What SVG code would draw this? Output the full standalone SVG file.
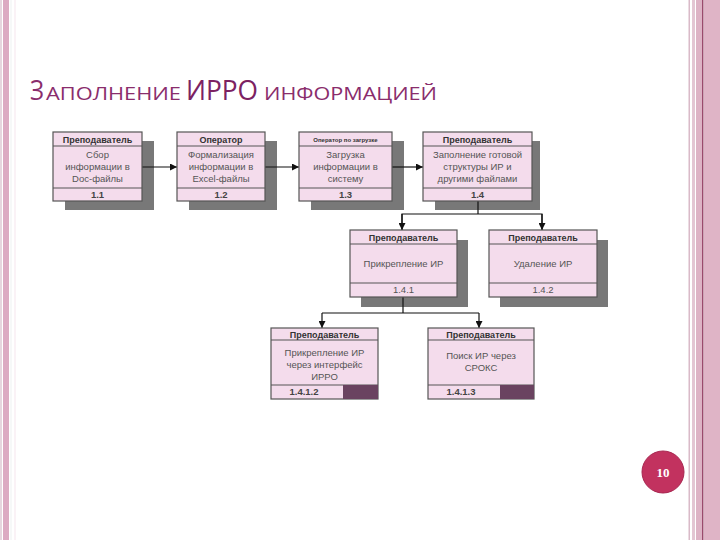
<svg xmlns="http://www.w3.org/2000/svg" width="720" height="540" viewBox="0 0 720 540">
<defs>
<style>
.box{fill:#f4dcec;stroke:#555;stroke-width:1.2}
.shd{fill:#787878}
.sep{stroke:#555;stroke-width:1}
.hd{font-family:"Liberation Sans",Arial,sans-serif;font-size:9px;font-weight:bold;fill:#333;text-anchor:middle}
.hds{font-family:"Liberation Sans",Arial,sans-serif;font-size:6px;font-weight:bold;fill:#333;text-anchor:middle}
.bd{font-family:"Liberation Sans",Arial,sans-serif;font-size:9.5px;fill:#555;text-anchor:middle}
.ft{font-family:"Liberation Sans",Arial,sans-serif;font-size:9.5px;font-weight:bold;fill:#444;text-anchor:middle}
.ftl{font-family:"Liberation Sans",Arial,sans-serif;font-size:9.5px;fill:#555;text-anchor:middle}
.dk{fill:#6a4360}
.cn{stroke:#111;stroke-width:1.2;fill:none}
.tsm{font-size:19px}
.tbg{font-size:27px}
</style>
<marker id="ah" viewBox="0 0 10 10" refX="10" refY="5" markerWidth="7" markerHeight="7" markerUnits="userSpaceOnUse" orient="auto">
<path d="M0,0 L10,5 L0,10 z" fill="#111"/>
</marker>
</defs>
<rect width="720" height="540" fill="#fff"/>
<g id="frame">
<rect x="0" y="0" width="2" height="540" fill="#e6d6de"/>
<rect x="3" y="0" width="6" height="540" fill="#dcaac2"/>
<rect x="10.5" y="0" width="1" height="540" fill="#eef2f2"/>
<rect x="14.5" y="0" width="1" height="540" fill="#f6e6ee"/>
<rect x="688.5" y="0" width="1.5" height="540" fill="#d9bac8"/>
<rect x="692" y="0" width="3" height="540" fill="#e3c6d3"/>
<rect x="696" y="0" width="6" height="540" fill="#ddb3c5"/>
<rect x="702" y="0" width="1.5" height="540" fill="#9a4a6c"/>
<rect x="704" y="0" width="16" height="540" fill="#dfb4c6"/>
</g>
<g id="title" font-family="'Open Sans','Liberation Sans',sans-serif" fill="#8a2d6c">
<text y="100"><tspan x="30" class="tbg" textLength="14" lengthAdjust="spacingAndGlyphs">З</tspan><tspan x="46" class="tsm" textLength="135" lengthAdjust="spacingAndGlyphs">АПОЛНЕНИЕ</tspan><tspan x="186" class="tbg" textLength="72" lengthAdjust="spacingAndGlyphs" fill="#7c2262">ИРРО</tspan><tspan x="264" class="tsm" textLength="173" lengthAdjust="spacingAndGlyphs">ИНФОРМАЦИЕЙ</tspan></text>
</g>
<g id="shadows">
<rect class="shd" x="65" y="141" width="89" height="69"/>
<rect class="shd" x="189" y="141" width="88" height="69"/>
<rect class="shd" x="311" y="141" width="93" height="69"/>
<rect class="shd" x="435" y="141" width="105" height="69"/>
<rect class="shd" x="361" y="240" width="107" height="67"/>
<rect class="shd" x="500" y="240" width="108" height="67"/>
</g>
<g id="connectors">
<line class="cn" x1="142" y1="167" x2="177" y2="167" marker-end="url(#ah)"/>
<line class="cn" x1="265" y1="167" x2="299" y2="167" marker-end="url(#ah)"/>
<line class="cn" x1="392" y1="167" x2="423" y2="167" marker-end="url(#ah)"/>
<polyline class="cn" points="478,201 478,214"/>
<polyline class="cn" points="402,230 402,214 542,214 542,230"/>
<line class="cn" x1="402" y1="214" x2="402" y2="230" marker-end="url(#ah)"/>
<line class="cn" x1="542" y1="214" x2="542" y2="230" marker-end="url(#ah)"/>
<polyline class="cn" points="403,297 403,313"/>
<polyline class="cn" points="322,313 479,313"/>
<line class="cn" x1="322" y1="313" x2="322" y2="328" marker-end="url(#ah)"/>
<line class="cn" x1="479" y1="313" x2="479" y2="328" marker-end="url(#ah)"/>
</g>
<g id="n1_1">
<rect class="box" x="53" y="132" width="89" height="69"/>
<line class="sep" x1="53" y1="146" x2="142" y2="146"/>
<line class="sep" x1="53" y1="188" x2="142" y2="188"/>
<text class="hd" x="97.5" y="142.5">Преподаватель</text>
<text class="bd" x="97.5" y="157.5">Сбор</text>
<text class="bd" x="97.5" y="169.5">информации в</text>
<text class="bd" x="97.5" y="181.5">Doc-файлы</text>
<text class="ft" x="97.5" y="197.5">1.1</text>
</g>
<g id="n1_2">
<rect class="box" x="177" y="132" width="88" height="69"/>
<line class="sep" x1="177" y1="146" x2="265" y2="146"/>
<line class="sep" x1="177" y1="188" x2="265" y2="188"/>
<text class="hd" x="221" y="142.5">Оператор</text>
<text class="bd" x="221" y="157.5">Формализация</text>
<text class="bd" x="221" y="169.5">информации в</text>
<text class="bd" x="221" y="181.5">Excel-файлы</text>
<text class="ft" x="221" y="197.5">1.2</text>
</g>
<g id="n1_3">
<rect class="box" x="299" y="132" width="93" height="69"/>
<line class="sep" x1="299" y1="146" x2="392" y2="146"/>
<line class="sep" x1="299" y1="188" x2="392" y2="188"/>
<text class="hds" x="345.5" y="141.5">Оператор по загрузке</text>
<text class="bd" x="345.5" y="157.5">Загрузка</text>
<text class="bd" x="345.5" y="169.5">информации в</text>
<text class="bd" x="345.5" y="181.5">систему</text>
<text class="ft" x="345.5" y="197.5">1.3</text>
</g>
<g id="n1_4">
<rect class="box" x="423" y="132" width="109" height="69"/>
<line class="sep" x1="423" y1="146" x2="532" y2="146"/>
<line class="sep" x1="423" y1="188" x2="532" y2="188"/>
<text class="hd" x="477.5" y="142.5">Преподаватель</text>
<text class="bd" x="477.5" y="157.5">Заполнение готовой</text>
<text class="bd" x="477.5" y="169.5">структуры ИР и</text>
<text class="bd" x="477.5" y="181.5">другими файлами</text>
<text class="ft" x="477.5" y="197.5">1.4</text>
</g>
<g id="n1_4_1">
<rect class="box" x="350" y="230" width="107" height="67"/>
<line class="sep" x1="350" y1="244" x2="457" y2="244"/>
<line class="sep" x1="350" y1="283" x2="457" y2="283"/>
<text class="hd" x="403.5" y="240.5">Преподаватель</text>
<text class="bd" x="403.5" y="266.5">Прикрепление ИР</text>
<text class="ftl" x="403.5" y="293">1.4.1</text>
</g>
<g id="n1_4_2">
<rect class="box" x="489" y="230" width="108" height="67"/>
<line class="sep" x1="489" y1="244" x2="597" y2="244"/>
<line class="sep" x1="489" y1="283" x2="597" y2="283"/>
<text class="hd" x="543" y="240.5">Преподаватель</text>
<text class="bd" x="543" y="266.5">Удаление ИР</text>
<text class="ftl" x="543" y="293">1.4.2</text>
</g>
<g id="n1_4_1_2">
<rect class="box" x="271" y="328" width="107" height="71"/>
<line class="sep" x1="271" y1="340" x2="378" y2="340"/>
<line class="sep" x1="271" y1="385" x2="378" y2="385"/>
<rect class="dk" x="343" y="385" width="35" height="14"/>
<text class="hd" x="324.5" y="337.5">Преподаватель</text>
<text class="bd" x="324.5" y="355.5">Прикрепление ИР</text>
<text class="bd" x="324.5" y="367.5">через интерфейс</text>
<text class="bd" x="324.5" y="379.5">ИРРО</text>
<text class="ft" x="304" y="395">1.4.1.2</text>
</g>
<g id="n1_4_1_3">
<rect class="box" x="428" y="328" width="106" height="71"/>
<line class="sep" x1="428" y1="340" x2="534" y2="340"/>
<line class="sep" x1="428" y1="385" x2="534" y2="385"/>
<rect class="dk" x="500" y="385" width="34" height="14"/>
<text class="hd" x="481" y="337.5">Преподаватель</text>
<text class="bd" x="481" y="358.5">Поиск ИР через</text>
<text class="bd" x="481" y="371">СРОКС</text>
<text class="ft" x="461" y="395">1.4.1.3</text>
</g>
<g id="page">
<circle cx="663" cy="472" r="21" fill="#c2325f" stroke="#a82650" stroke-width="1"/>
<text x="663" y="476.5" font-family="'Liberation Serif',serif" font-size="13" font-weight="bold" fill="#fff" text-anchor="middle">10</text>
</g>
</svg>
